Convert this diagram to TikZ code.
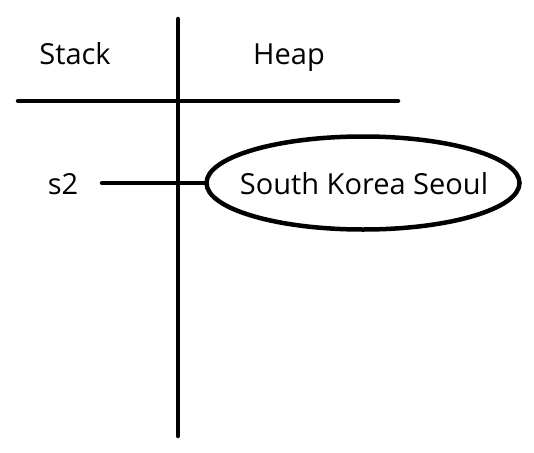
\documentclass[tikz,border=0pt]{standalone}
\usepackage{fontspec}
\setmainfont{Open Sans}
\usetikzlibrary{shapes.geometric}
\begin{document}
\begin{tikzpicture}[x=1pt,y=-1pt,
  thick line/.style={line width=4.5pt,line cap=round},
  label text/.style={inner sep=0pt,anchor=base,font=\fontsize{29}{34}\selectfont}]
\useasboundingbox (0,0) rectangle (534,452);
\coordinate (vtop) at (178,19);
\coordinate (vbot) at (178,436);
\coordinate (hl) at (18,101);
\coordinate (hr) at (398,101);
\draw[thick line] (vtop) -- (vbot);
\draw[thick line] (hl) -- (hr);
\node[label text] (stack) at (75,64) {Stack};
\node[label text] (heap) at (289,64) {Heap};
\node[label text] (s2) at (63,194) {s2};
\node[draw,ellipse,line width=4.5pt,minimum width=313pt,minimum height=93pt,inner sep=0pt] (obj) at (363,183) {};
\node[label text] (objtext) at (364,194) {South Korea Seoul};
\coordinate (s2r) at (102,183);
\draw[thick line] (s2r) -- (obj.west);
\end{tikzpicture}
\end{document}
